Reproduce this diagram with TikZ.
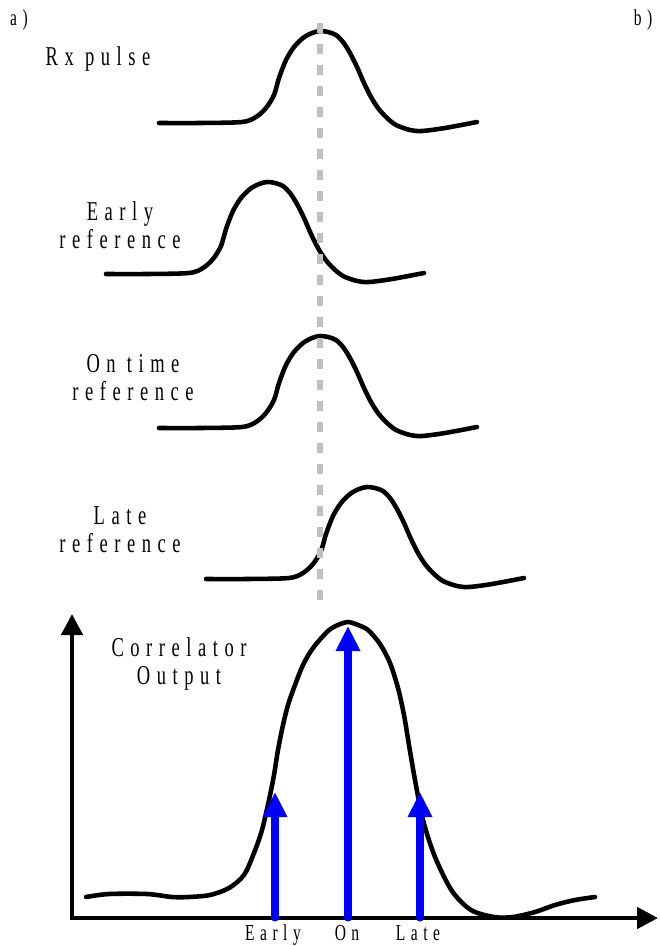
\documentclass[tikz,border=0pt]{standalone}
\usepackage{fontspec}
\newfontfamily\lblfont[FakeStretch=0.68,LetterSpace=24]{Liberation Serif}
\usetikzlibrary{positioning, arrows.meta}
\definecolor{guidegray}{RGB}{192,192,192}
\definecolor{tapblue}{RGB}{0,0,255}

\begin{document}
\begin{tikzpicture}[x=0.02cm, y=-0.02cm,
  lbl/.style={font=\lblfont\fontsize{15.5}{16}\selectfont, align=center, inner sep=0pt},
  tick/.style={font=\lblfont\fontsize{13}{14}\selectfont, inner sep=0pt, anchor=base},
  pulse/.style={line width=2.6pt, line join=round, line cap=round},
  axisline/.style={line width=2.6pt, line join=miter,
    {Triangle[length=0.42cm, width=0.42cm]}-{Triangle[length=0.42cm, width=0.42cm]}},
  tapline/.style={tapblue, line width=4pt, line cap=round, -{Triangle[length=0.5cm, width=0.46cm]}},
  guideline/.style={guidegray, line width=3.4pt, dash pattern=on 0.2cm off 0.22cm},
  pulse shape/.pic={
    \draw[pulse] plot[smooth, tension=0.5] coordinates {(159,123) (200,123) (242,122) (256,117)
      (266,108) (274,95) (279,78) (286,60) (294,47) (303,38) (312,33) (320,31) (328,32)
      (336,35) (343,42) (350,53) (357,67) (364,83) (371,97) (378,108) (386,117) (396,125)
      (410,130) (422,131) (445,128) (477,122)};
  }]
\useasboundingbox (0,0) rectangle (659,946);

% panel marks
\node[lbl, font=\lblfont\fontsize{13}{14}\selectfont] at (19,20) (pa) {a)};
\node[lbl, font=\lblfont\fontsize{13}{14}\selectfont] at (643,20) (pb) {b)};

% received pulse and the three references
\node[lbl, anchor=base] at (98,66) (rx) {Rx pulse};
\pic at (0,0) {pulse shape};
\node[lbl] at (120,225) (early) {Early\\reference};
\pic at (-53,151) {pulse shape};
\node[lbl] at (133,378) (ontime) {On time\\reference};
\pic at (0,305) {pulse shape};
\node[lbl] at (120,530) (late) {Late\\reference};
\pic at (47,456) {pulse shape};

% timing guide
\coordinate (gtop) at (320,23);
\coordinate (gbot) at (320,605);
\draw[guideline] (gtop) -- (gbot);

% correlator output
\coordinate (origin) at (72,918);
\coordinate (ytop) at (72,614);
\coordinate (xend) at (658,918);
\draw[axisline] (ytop) -- (origin) -- (xend);
\node[lbl] at (179,664) (corr) {Correlator\\Output};
\draw[pulse] plot[smooth, tension=0.5] coordinates {(86,897) (109,894) (147,894) (172,897)
  (189,897) (210,895) (229,888) (244,875) (254,853) (262,830) (269,800) (274,775) (278,750)
  (283,725) (288,705) (295,685) (303,665) (313,648) (328,631) (338,625) (348,622) (358,625)
  (368,630) (380,644) (390,663) (398,688) (404,715) (409,745) (415,780) (423,820) (435,857)
  (452,891) (471,910) (494,917) (513,917) (535,912) (555,905) (575,900) (595,897)};

% early / on / late taps
\coordinate (eb) at (275,918);
\coordinate (et) at (275,792);
\coordinate (ob) at (348,918);
\coordinate (ot) at (348,626);
\coordinate (lb) at (420,918);
\coordinate (lt) at (420,792);
\draw[tapline] (eb) -- (et);
\draw[tapline] (ob) -- (ot);
\draw[tapline] (lb) -- (lt);
\node[tick] at (273,940) (te) {Early};
\node[tick] at (347,940) (to) {On};
\node[tick] at (418,940) (tl) {Late};
\end{tikzpicture}
\end{document}
